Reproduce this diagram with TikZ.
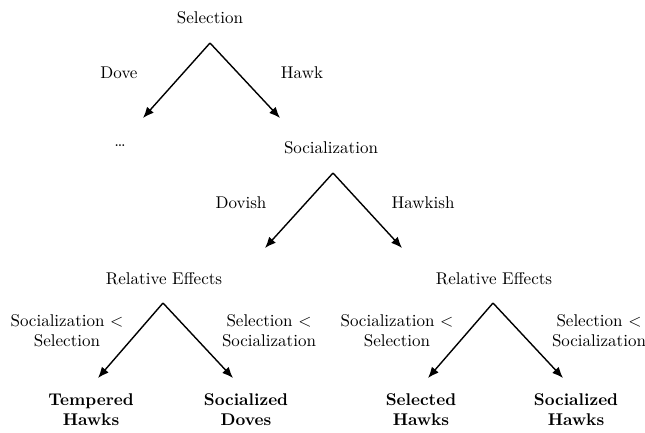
\documentclass[tikz,border=0pt]{standalone}
\usetikzlibrary{positioning,arrows.meta}
\begin{document}
\begin{tikzpicture}[x=1pt, y=-1pt, >={Latex[length=11pt,width=9pt]}, line width=1.4pt,
    every node/.style={font=\fontsize{10}{11.8}\selectfont, scale=1.7, inner sep=0pt}]
      % Styles
      \tikzstyle{stage} = [text centered]
      \tikzstyle{choice} = [align=center]
      \tikzstyle{outcome} = [align=center, font=\fontsize{10}{11.8}\selectfont\bfseries]
      \useasboundingbox (0,0) rectangle (645,432);

      % Nodes
      \node[stage] (selection) at (210,18) {Selection};
      \node[choice] (dove) at (119,73) {Dove};
      \node[choice] (hawk) at (302,73) {Hawk};
      \node[stage] (dots) at (120,146) {\dots};
      \node[stage] (socialization) at (331,148) {Socialization};
      \node[choice] (dovish) at (241,203) {Dovish};
      \node[choice] (hawkish) at (423,203) {Hawkish};
      \node[stage] (relleft) at (164,279) {Relative Effects};
      \node[stage] (relright) at (494,279) {Relative Effects};
      \node[choice] (socless) at (67,331) {Socialization $<$\\Selection};
      \node[choice] (selless) at (269,331) {Selection $<$\\Socialization};
      \node[choice] (soclessr) at (397,331) {Socialization $<$\\Selection};
      \node[choice] (sellessr) at (599,331) {Selection $<$\\Socialization};
      \node[outcome] (tempered) at (91,410) {Tempered\\Hawks};
      \node[outcome] (socdoves) at (246,410) {Socialized\\Doves};
      \node[outcome] (selhawks) at (421,410) {Selected\\Hawks};
      \node[outcome] (sochawks) at (576,410) {Socialized\\Hawks};

      % Branch points
      \coordinate (selfork) at (210,43);
      \coordinate (dovetip) at (143,118);
      \coordinate (hawktip) at (280,118);
      \coordinate (socfork) at (333,173);
      \coordinate (dovishtip) at (265,248);
      \coordinate (hawkishtip) at (402,248);
      \coordinate (relleftfork) at (163,303);
      \coordinate (temperedtip) at (98,378);
      \coordinate (socdovestip) at (233,378);
      \coordinate (relrightfork) at (493,303);
      \coordinate (selhawkstip) at (428,378);
      \coordinate (sochawkstip) at (563,378);

      % Arrows
      \draw[->] (selfork) -- (dovetip);
      \draw[->] (selfork) -- (hawktip);
      \draw[->] (socfork) -- (dovishtip);
      \draw[->] (socfork) -- (hawkishtip);
      \draw[->] (relleftfork) -- (temperedtip);
      \draw[->] (relleftfork) -- (socdovestip);
      \draw[->] (relrightfork) -- (selhawkstip);
      \draw[->] (relrightfork) -- (sochawkstip);
  \end{tikzpicture}
\end{document}
